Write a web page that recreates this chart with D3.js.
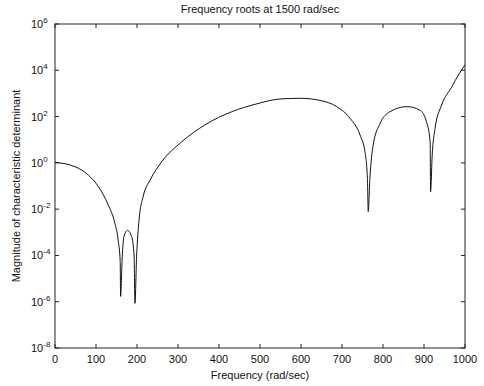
<!DOCTYPE html>
<html>
<head>
<meta charset="utf-8">
<script src="https://d3js.org/d3.v7.min.js"></script>
<style>
  body { margin: 0; background: #fff; }
  text { font-family: "Liberation Sans", Arial, sans-serif; fill: #111; }
</style>
</head>
<body>
<svg id="chart" width="484" height="386"></svg>
<script>
const width = 484, height = 386;
const margin = {top: 24, right: 19, bottom: 38, left: 55};

// frequency (rad/sec) and magnitude of characteristic determinant
const freq = [0, 49, 81, 106, 130, 146, 154, 159, 160, 164, 168, 177, 187, 193, 195, 199, 205, 215, 232, 260,
              309, 366, 431, 488, 549, 598, 646, 687, 720, 744, 756, 762, 764, 768, 776, 793, 817, 858,
              890, 906, 915, 916, 920, 927, 943, 968, 985, 1000];
const magnitude = [1.05, 0.68, 0.30, 0.093, 0.015, 2.5e-3, 4.7e-4, 5.4e-5, 1.7e-6, 8.7e-5, 6.5e-4, 1.2e-3, 6.5e-4,
                   8.7e-5, 8.5e-7, 8.7e-5, 3.4e-3, 0.035, 0.18, 1.1,
                   8.1, 44, 162, 339, 575, 617, 501, 269, 83, 16, 3.0, 0.21, 7.8e-3, 0.21, 5.9, 51, 162, 269,
                   190, 60, 8.1, 0.056, 2.2, 31, 316, 1950, 6800, 17000];
const xTicks = [0, 100, 200, 300, 400, 500, 600, 700, 800, 900, 1000];
const yExponents = [-8, -6, -4, -2, 0, 2, 4, 6];

const data = freq.map((f, i) => ({f: f, m: magnitude[i]}));

const svg = d3.select("#chart");
const iw = width - margin.left - margin.right, ih = height - margin.top - margin.bottom;

const x = d3.scaleLinear().domain([0, 1000]).range([margin.left, margin.left + iw]);
const y = d3.scaleLog().domain([1e-8, 1e6]).range([margin.top + ih, margin.top]);

const axisColor = "#222";

// box
svg.append("rect")
    .attr("x", margin.left).attr("y", margin.top)
    .attr("width", iw).attr("height", ih)
    .attr("fill", "none").attr("stroke", axisColor).attr("stroke-width", 1);

// inward ticks on all four sides
const tickLen = 4;
xTicks.forEach(t => {
    svg.append("line").attr("x1", x(t)).attr("x2", x(t))
        .attr("y1", margin.top + ih).attr("y2", margin.top + ih - tickLen).attr("stroke", axisColor);
    svg.append("line").attr("x1", x(t)).attr("x2", x(t))
        .attr("y1", margin.top).attr("y2", margin.top + tickLen).attr("stroke", axisColor);
    svg.append("text").attr("x", x(t)).attr("y", margin.top + ih + 15)
        .attr("text-anchor", "middle").attr("font-size", 11).text(t);
});

yExponents.forEach(e => {
    const yy = y(Math.pow(10, e));
    svg.append("line").attr("x1", margin.left).attr("x2", margin.left + tickLen)
        .attr("y1", yy).attr("y2", yy).attr("stroke", axisColor);
    svg.append("line").attr("x1", margin.left + iw).attr("x2", margin.left + iw - tickLen)
        .attr("y1", yy).attr("y2", yy).attr("stroke", axisColor);
    const lbl = svg.append("text").attr("x", 31).attr("y", yy + 4).attr("font-size", 11);
    lbl.append("tspan").text("10");
    lbl.append("tspan").attr("dy", -5).attr("font-size", 8).text(e);
});

// curve
const line = d3.line()
    .x(d => x(d.f))
    .y(d => y(d.m))
    .curve(d3.curveMonotoneX);

svg.append("path")
    .datum(data)
    .attr("d", line)
    .attr("fill", "none")
    .attr("stroke", "#111")
    .attr("stroke-width", 1);

// labels
svg.append("text").attr("x", margin.left + iw / 2).attr("y", 13)
    .attr("text-anchor", "middle").attr("font-size", 11)
    .text("Frequency roots at 1500 rad/sec");

svg.append("text").attr("x", margin.left + iw / 2).attr("y", 379)
    .attr("text-anchor", "middle").attr("font-size", 11)
    .text("Frequency (rad/sec)");

svg.append("text")
    .attr("transform", `translate(20,${margin.top + ih / 2}) rotate(-90)`)
    .attr("text-anchor", "middle").attr("font-size", 11)
    .text("Magnitude of characteristic determinant");
</script>
</body>
</html>
